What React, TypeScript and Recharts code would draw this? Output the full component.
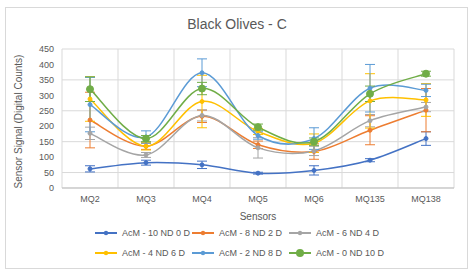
import React from 'react'
import { CartesianGrid, ErrorBar, Legend, Line, LineChart, XAxis, YAxis } from 'recharts'

const SENSORS = ['MQ2', 'MQ3', 'MQ4', 'MQ5', 'MQ6', 'MQ135', 'MQ138']

const SERIES = [
  'AcM - 10 ND 0 D',
  'AcM - 8 ND 2 D',
  'AcM - 6 ND 4 D',
  'AcM - 4 ND 6 D',
  'AcM - 2 ND 8 D',
  'AcM - 0 ND 10 D',
]

const COLORS = ['#4472C4', '#ED7D31', '#A5A5A5', '#FFC000', '#5B9BD5', '#70AD47']

const nd10 = [62, 82, 75, 48, 57, 90, 160]
const nd8 = [220, 135, 232, 140, 118, 187, 252]
const nd6 = [177, 107, 235, 130, 120, 218, 262]
const nd4 = [288, 135, 280, 183, 145, 282, 285]
const nd2 = [270, 165, 373, 170, 160, 323, 316]
const nd0 = [320, 160, 322, 197, 150, 305, 370]

const err10 = [10, 8, 12, 3, 15, 5, 22]
const err8 = [90, 10, 20, 12, 25, 47, 70]
const err6 = [20, 8, 18, 33, 15, 20, 15]
const err4 = [72, 12, 85, 10, 30, 88, 53]
const err2 = [88, 20, 45, 12, 35, 77, 20]
const err0 = [40, 10, 20, 10, 12, 25, 8]

const VALUES = [nd10, nd8, nd6, nd4, nd2, nd0]
const ERRORS = [err10, err8, err6, err4, err2, err0]

const data = SENSORS.map((name, i) => {
  const row: Record<string, any> = { name }
  VALUES.forEach((v, s) => {
    row['s' + s] = v[i]
    row['e' + s] = ERRORS[s][i]
  })
  return row
})

// Excel-like smoothed line (uniform Catmull-Rom as bezier)
function excelCurve(context: any) {
  let pts: [number, number][] = []
  return {
    areaStart() {},
    areaEnd() {},
    lineStart() {
      pts = []
    },
    lineEnd() {
      const n = pts.length
      if (!n) return
      context.moveTo(pts[0][0], pts[0][1])
      for (let i = 0; i < n - 1; i++) {
        const p0 = pts[i - 1] || pts[i]
        const p1 = pts[i]
        const p2 = pts[i + 1]
        const p3 = pts[i + 2] || p2
        context.bezierCurveTo(
          p1[0] + (p2[0] - p0[0]) / 6,
          p1[1] + (p2[1] - p0[1]) / 6,
          p2[0] - (p3[0] - p1[0]) / 6,
          p2[1] - (p3[1] - p1[1]) / 6,
          p2[0],
          p2[1]
        )
      }
    },
    point(x: number, y: number) {
      pts.push([+x, +y])
    },
  }
}

const FONT = '"Liberation Sans", Arial, sans-serif'
const TEXT = '#595959'

function LegendBox() {
  return (
    <div style={{ width: 292, marginLeft: 95, display: 'flex', flexWrap: 'wrap', fontFamily: FONT, fontSize: 9, color: TEXT }}>
      {SERIES.map((s, i) => (
        <div key={s} style={{ width: 97, height: 20, display: 'flex', alignItems: 'center' }}>
          <svg width={24} height={10} style={{ marginRight: 3 }}>
            <line x1={0} y1={5} x2={22} y2={5} stroke={COLORS[i]} strokeWidth={2} />
            <circle cx={11} cy={5} r={i === 5 ? 4 : 2.2} fill={COLORS[i]} />
          </svg>
          <span style={{ whiteSpace: 'nowrap' }}>{s}</span>
        </div>
      ))}
    </div>
  )
}

export default function App() {
  return (
    <div style={{ position: 'fixed', left: 0, top: 0, width: 474, height: 273, background: '#fff' }}>
      <div style={{ position: 'absolute', left: 5, top: 7, width: 463, height: 262, border: '1px solid #d9d9d9', boxSizing: 'border-box' }} />
      <div style={{ position: 'absolute', left: 0, top: 16, width: 474, textAlign: 'center', fontFamily: FONT, fontSize: 14, color: TEXT }}>
        Black Olives - C
      </div>
      <LineChart width={474} height={273} data={data} margin={{ top: 49, right: 20, bottom: 25, left: 32 }} style={{ position: 'absolute', left: 0, top: 0 }}>
        <CartesianGrid
          stroke="#d9d9d9"
          verticalCoordinatesGenerator={({ offset }: any) =>
            SENSORS.map((_, i) => offset.left + (i * offset.width) / SENSORS.length).concat(offset.left + offset.width)
          }
        />
        <XAxis
          dataKey="name"
          scale="band"
          tickLine={false}
          axisLine={{ stroke: '#bfbfbf' }}
          tick={{ fill: TEXT, fontSize: 9, fontFamily: FONT }}
          height={20}
          label={{ value: 'Sensors', position: 'insideBottom', offset: -12, fill: TEXT, fontSize: 10, fontFamily: FONT }}
        />
        <YAxis
          domain={[0, 450]}
          ticks={[0, 50, 100, 150, 200, 250, 300, 350, 400, 450]}
          width={30}
          tickLine={false}
          axisLine={false}
          tick={{ fill: TEXT, fontSize: 9, fontFamily: FONT }}
          label={{ value: 'Sensor Signal (Digital Counts)', angle: -90, position: 'insideLeft', offset: -14, dy: 70, fill: TEXT, fontSize: 10, fontFamily: FONT }}
        />
        <Legend content={<LegendBox />} wrapperStyle={{ position: 'absolute', top: 223, left: 0, width: 474 }} />
        {SERIES.map((s, i) => (
          <Line
            key={s}
            name={s}
            dataKey={'s' + i}
            type={excelCurve as any}
            stroke={COLORS[i]}
            strokeWidth={1.5}
            dot={{ r: i === 5 ? 3.5 : 2, fill: COLORS[i], stroke: COLORS[i], strokeWidth: 1 }}
            isAnimationActive={false}
          >
            <ErrorBar dataKey={'e' + i} width={5} stroke={COLORS[i]} strokeWidth={1} />
          </Line>
        ))}
      </LineChart>
    </div>
  )
}
